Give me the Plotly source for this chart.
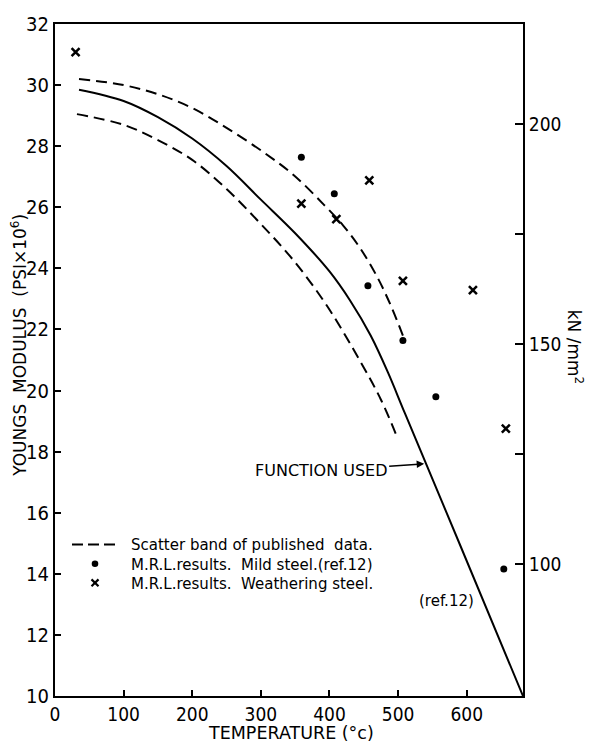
import plotly.graph_objects as go

# ---- data ----
solid_T = [35, 100, 150, 200, 250, 300, 350, 400, 430, 460, 485, 510, 590, 682]
solid_E = [29.85, 29.48, 28.95, 28.25, 27.35, 26.25, 25.15, 23.9, 22.95, 21.8, 20.6, 19.25, 14.96, 10.0]

upper_T = [35, 100, 150, 200, 250, 304, 348, 392, 420, 445, 470, 490, 507]
upper_E = [30.2, 30.0, 29.7, 29.25, 28.6, 27.8, 27.05, 26.08, 25.4, 24.65, 23.7, 22.75, 21.8]

lower_T = [32, 100, 150, 200, 250, 300, 348, 397, 445, 475, 499]
lower_E = [29.05, 28.7, 28.2, 27.55, 26.6, 25.45, 24.25, 22.75, 20.95, 19.7, 18.45]

mild_T = [359, 407, 456, 507, 555, 654]
mild_E = [27.64, 26.44, 23.43, 21.64, 19.80, 14.16]

weather_T = [30, 359, 410, 458, 507, 609, 657]
weather_E = [31.08, 26.12, 25.61, 26.88, 23.59, 23.29, 18.75]

x_ticks = [0, 100, 200, 300, 400, 500, 600]
y_ticks = [10, 12, 14, 16, 18, 20, 22, 24, 26, 28, 30, 32]
y2_ticks = [100, 150, 200]
y2_minor = [125, 175]

legend_labels = ["Scatter band of published\u00a0 data.",
                 "M.R.L.results.\u00a0 Mild steel.(ref.12)",
                 "M.R.L.results.\u00a0 Weathering steel."]

# ---- layout geometry ----
W, H = 589, 746
L, R, T, B = 55, 66, 13, 50
PW, PH = W - L - R, H - T - B

def pp(xp, yp):
    return (xp - L) / PW, (H - B - yp) / PH

TXT = "DejaVu Sans"
NUM = "DejaVu Sans Condensed, DejaVu Sans"
LEG = 15
PITCH = 1.3 * LEG
LY0 = 542

fig = go.Figure()
dash = "11px,6px"
fig.add_trace(go.Scatter(x=upper_T, y=upper_E, mode="lines", line=dict(color="black", width=2, dash=dash, shape="spline", smoothing=1), showlegend=False, hoverinfo="skip"))
fig.add_trace(go.Scatter(x=lower_T, y=lower_E, mode="lines", line=dict(color="black", width=2, dash=dash, shape="spline", smoothing=1), showlegend=False, hoverinfo="skip"))
fig.add_trace(go.Scatter(x=solid_T, y=solid_E, mode="lines", line=dict(color="black", width=2, shape="spline", smoothing=1), showlegend=False))
fig.add_trace(go.Scatter(x=mild_T, y=mild_E, mode="markers", marker=dict(symbol="circle", size=7, color="black"), showlegend=False))
fig.add_trace(go.Scatter(x=weather_T, y=weather_E, mode="markers", marker=dict(symbol="x-thin", size=8, line=dict(width=2.5, color="black")), showlegend=False))
fig.add_trace(go.Scatter(x=[None], y=[None], yaxis="y2", showlegend=False, hoverinfo="skip"))

shapes = []
# legend samples
x0, y0 = pp(72, LY0); x1, _ = pp(115, LY0)
shapes.append(dict(type="line", xref="paper", yref="paper", x0=x0, y0=y0, x1=x1, y1=y0, line=dict(color="black", width=2, dash="11px,5px")))
cx, cy = pp(95, LY0 + PITCH); rx, ry = 3.3 / PW, 3.3 / PH
shapes.append(dict(type="circle", xref="paper", yref="paper", x0=cx - rx, x1=cx + rx, y0=cy - ry, y1=cy + ry, fillcolor="black", line=dict(color="black", width=0)))
cx, cy = pp(95, LY0 + 2 * PITCH); rx, ry = 3.5 / PW, 3.5 / PH
shapes.append(dict(type="line", xref="paper", yref="paper", x0=cx - rx, x1=cx + rx, y0=cy - ry, y1=cy + ry, line=dict(color="black", width=2.2)))
shapes.append(dict(type="line", xref="paper", yref="paper", x0=cx - rx, x1=cx + rx, y0=cy + ry, y1=cy - ry, line=dict(color="black", width=2.2)))

ann = []
ax_, ay_ = pp(130, LY0 - PITCH / 2)
ann.append(dict(text="<br>".join(legend_labels), xref="paper", yref="paper", x=ax_, y=ay_, xanchor="left", yanchor="top", align="left",
                showarrow=False, borderpad=0, font=dict(family=TXT, size=LEG, color="black")))
ax_, ay_ = pp(418, LY0 + 3 * PITCH - 1)
ann.append(dict(text="(ref.12)", xref="paper", yref="paper", x=ax_, y=ay_, xanchor="left", yanchor="middle", showarrow=False, borderpad=0, font=dict(family=TXT, size=LEG, color="black")))

# function used arrow
ann.append(dict(text="FUNCTION USED", x=538, y=17.6, xref="x", yref="y", showarrow=True, ax=-103, ay=7, arrowhead=2, arrowsize=1, arrowwidth=1.5, arrowcolor="black", font=dict(family=TXT, size=16, color="black")))

# axis titles
ax_, ay_ = pp(291, 734)
ann.append(dict(text="TEMPERATURE (°c)", xref="paper", yref="paper", x=ax_, y=ay_, showarrow=False, xanchor="center", yanchor="middle", font=dict(family=TXT, size=17.5, color="black")))
ax_, ay_ = pp(19, 340)
ann.append(dict(text="YOUNGS  MODULUS  (PSI×10<sup>6</sup>)", xref="paper", yref="paper", x=ax_, y=ay_, showarrow=False, textangle=-90, xanchor="center", yanchor="middle", font=dict(family=TXT, size=17, color="black")))
ax_, ay_ = pp(575, 341)
ann.append(dict(text="kN /mm<sup>2</sup>", xref="paper", yref="paper", x=ax_, y=ay_, showarrow=False, textangle=90, xanchor="center", yanchor="middle", font=dict(family=TXT, size=17, color="black")))

fig.update_layout(
    width=W, height=H, margin=dict(l=L, r=R, t=T, b=B),
    paper_bgcolor="white", plot_bgcolor="white",
    showlegend=False, shapes=shapes, annotations=ann,
    xaxis=dict(range=[0, 682], tickvals=x_ticks, ticks="inside", ticklen=6, tickwidth=2, tickcolor="black",
               showline=True, linewidth=2, linecolor="black", mirror=True, showgrid=False, zeroline=False,
               tickfont=dict(family=NUM, size=19, color="black")),
    yaxis=dict(range=[10, 32], tickvals=y_ticks, ticks="inside", ticklen=6, tickwidth=2, tickcolor="black",
               showline=True, linewidth=2, linecolor="black", showgrid=False, zeroline=False,
               tickfont=dict(family=NUM, size=20, color="black")),
    yaxis2=dict(overlaying="y", side="right", range=[70.0, 222.8], tickvals=y2_ticks,
                ticks="inside", ticklen=8, tickwidth=2, tickcolor="black",
                minor=dict(tickvals=y2_minor, ticks="inside", ticklen=8, tickwidth=2, tickcolor="black", showgrid=False),
                showline=True, linewidth=2, linecolor="black", showgrid=False, zeroline=False,
                tickfont=dict(family=NUM, size=19, color="black")),
)

fig.write_html("out.html")
